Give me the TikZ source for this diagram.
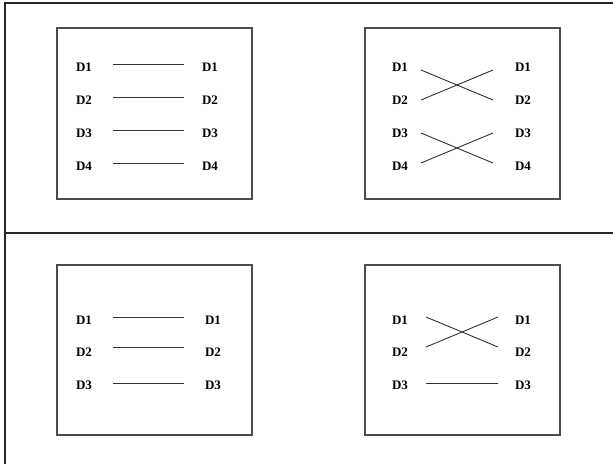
\documentclass[tikz,border=0pt]{standalone}
\usepackage{fontspec}
\setmainfont{Liberation Serif}
\begin{document}
\begin{tikzpicture}[x=1pt,y=-1pt,
  frame/.style={line width=1.6pt,black!85},
  panel/.style={draw=black!70,line width=1.1pt,inner sep=0pt,minimum width=195pt},
  lbl/.style={font=\fontsize{13}{15}\selectfont\bfseries,inner sep=0pt,anchor=center},
  wire/.style={draw=black!80,line width=0.9pt}]
\useasboundingbox (0,0) rectangle (613,464);
% outer frame
\coordinate (ftl) at (5,3);
\coordinate (ftr) at (613,3);
\coordinate (fbl) at (5,464);
\coordinate (fml) at (5,233);
\coordinate (fmr) at (613,233);
\draw[frame] (ftr) -- (ftl) -- (fbl);
\draw[frame] (fml) -- (fmr);
% panels
\node[panel,minimum height=171pt] (p1) at (154.5,113.5) {};
\node[panel,minimum height=171pt] (p2) at (462.5,113.5) {};
\node[panel,minimum height=170pt] (p3) at (154.5,350) {};
\node[panel,minimum height=170pt] (p4) at (462.5,350) {};
% panel 1
\foreach \i/\y in {1/67,2/100,3/133,4/166}{
  \node[lbl] (a\i) at (84,\y) {D\i};
  \node[lbl] (b\i) at (210,\y) {D\i};
  \coordinate (as\i) at (113,\y-3);
  \coordinate (ae\i) at (184,\y-3);
  \draw[wire] (as\i) -- (ae\i);
}
% panel 2
\foreach \i/\y in {1/67,2/100,3/133,4/166}{
  \node[lbl] (c\i) at (400,\y) {D\i};
  \node[lbl] (d\i) at (523,\y) {D\i};
}
\coordinate (cs1) at (421,70);
\coordinate (ce1) at (493,70);
\coordinate (cs2) at (421,100);
\coordinate (ce2) at (493,100);
\coordinate (cs3) at (421,133);
\coordinate (ce3) at (493,133);
\coordinate (cs4) at (421,163);
\coordinate (ce4) at (493,163);
\draw[wire] (cs1) -- (ce2);
\draw[wire] (cs2) -- (ce1);
\draw[wire] (cs3) -- (ce4);
\draw[wire] (cs4) -- (ce3);
% panel 3
\foreach \i/\y/\ly in {1/320/317,2/352/347,3/385/383}{
  \node[lbl] (e\i) at (84,\y) {D\i};
  \node[lbl] (f\i) at (213,\y) {D\i};
  \coordinate (es\i) at (113,\ly);
  \coordinate (ee\i) at (184,\ly);
  \draw[wire] (es\i) -- (ee\i);
}
% panel 4
\foreach \i/\y/\ly in {1/320/317,2/352/347,3/385/383}{
  \node[lbl] (g\i) at (400,\y) {D\i};
  \node[lbl] (h\i) at (523,\y) {D\i};
  \coordinate (gs\i) at (426,\ly);
  \coordinate (ge\i) at (498,\ly);
}
\draw[wire] (gs1) -- (ge2);
\draw[wire] (gs2) -- (ge1);
\draw[wire] (gs3) -- (ge3);
\end{tikzpicture}
\end{document}
